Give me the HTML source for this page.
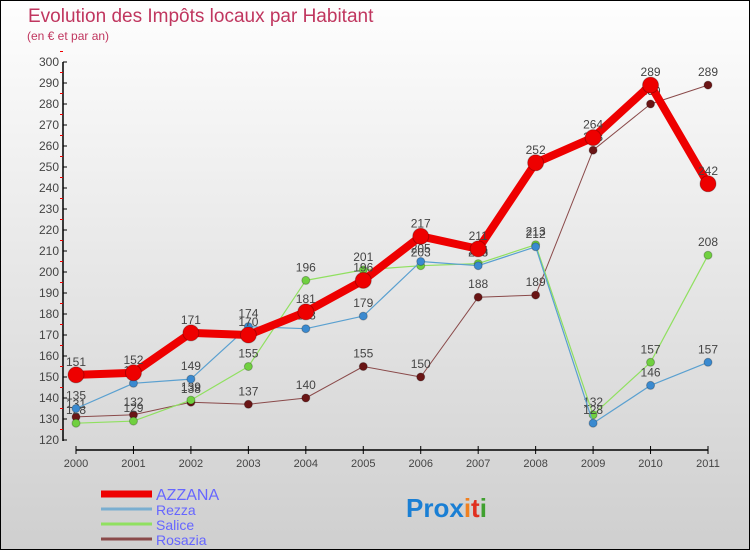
<!DOCTYPE html>
<html><head><meta charset="utf-8"><style>
body{margin:0}
#wrap{position:relative;width:750px;height:550px;box-sizing:border-box;border:1px solid #000;background:linear-gradient(#fefefe,#cfcfcf);font-family:"Liberation Sans",sans-serif;overflow:hidden}
svg{position:absolute;left:0;top:0}
</style></head><body>
<div id="wrap">
<svg id="s" width="750" height="550">
<text x="27" y="21" font-size="19" fill="#c0365f">Evolution des Impôts locaux par Habitant</text>
<text x="26" y="39" font-size="12" fill="#c0365f">(en € et par an)</text>
<text x="405" y="516" font-size="26" font-weight="bold" fill="#1a7fd4">Pro<tspan fill="#1a7fd4">x</tspan><tspan fill="#f08020">i</tspan><tspan fill="#e03020">t</tspan><tspan fill="#40a030">i</tspan></text>
</svg>
</div>
<script>
const years=[2000,2001,2002,2003,2004,2005,2006,2007,2008,2009,2010,2011];
const yTicks=[120,130,140,150,160,170,180,190,200,210,220,230,240,250,260,270,280,290,300];
const azzana=[151,152,171,170,181,196,217,211,252,264,289,242];
const rezza=[135,147,149,174,173,179,205,203,212,128,146,157];
const salice=[128,129,139,155,196,201,203,204,213,132,157,208];
const rosazia=[131,132,138,137,140,155,150,188,189,258,280,289];
const s=document.getElementById('s');
const NS='http://www.w3.org/2000/svg';
const X=i=>75+i*(707-75)/11;
const Y=v=>439-(v-120)*(439-61)/180;
function mk(t,a,p){const e=document.createElementNS(NS,t);for(const k in a)e.setAttribute(k,a[k]);(p||s).appendChild(e);return e;}
// axes
let ax=mk('line',{x1:62,y1:61,x2:62,y2:440,stroke:'#000','stroke-width':1.5});


let xa=mk('line',{x1:75,y1:449,x2:707,y2:449,stroke:'#000','stroke-width':1.5});


yTicks.forEach(v=>{
 mk('line',{x1:62,y1:Y(v),x2:66,y2:Y(v),stroke:'#000'});
 mk('line',{x1:59,y1:Y(v+5),x2:62,y2:Y(v+5),stroke:'#e00'});
 const t=mk('text',{x:58,y:Y(v)+4,'font-size':12,fill:'#444','text-anchor':'end'});t.textContent=v;
 
 
});
years.forEach((y,i)=>{
 mk('line',{x1:X(i),y1:445,x2:X(i),y2:453,stroke:'#000'});
 const t=mk('text',{x:X(i),y:466,'font-size':11,fill:'#444','text-anchor':'middle'});t.textContent=y;
 
 
});
function series(data,color,w,r,name,pt){
 const g=mk('g',{});
 
 
 const pl=mk('polyline',{points:data.map((v,i)=>X(i)+','+Y(v)).join(' '),fill:'none',stroke:color,'stroke-width':w,'stroke-linejoin':'round'},g);
 data.forEach((v,i)=>{
  const c=mk('circle',{cx:X(i),cy:Y(v),r:r,fill:pt,stroke:'rgba(0,0,0,0.25)'},g);
  
  
  const t=mk('text',{x:X(i),y:Y(v)-9,'font-size':12,fill:'#444','text-anchor':'middle'},g);t.textContent=v;
  
  
 });
}
series(rosazia,'#8a4a4a',1,4,'rosazia','#6a1515');
series(salice,'#90e060',1.2,4,'salice','#70d040');
series(rezza,'#5aa0d0',1.2,4,'rezza','#3a8ad0');
series(azzana,'#ee0000',8,8,'azzana','#ee0000');
// legend
const leg=[['AZZANA','#ee0000',7,493,16],['Rezza','#7aaed0',3,508,14],['Salice','#90e060',3,523,14],['Rosazia','#8a4a4a',3,538,14]];
leg.forEach(l=>{
 const g=mk('g',{});
 
 
 mk('line',{x1:100,y1:l[3],x2:151,y2:l[3],stroke:l[1],'stroke-width':l[2]},g);
 const t=mk('text',{x:155,y:l[3]+6,'font-size':l[4],fill:'#6666ff'},g);t.textContent=l[0];
});
</script>
</body></html>
